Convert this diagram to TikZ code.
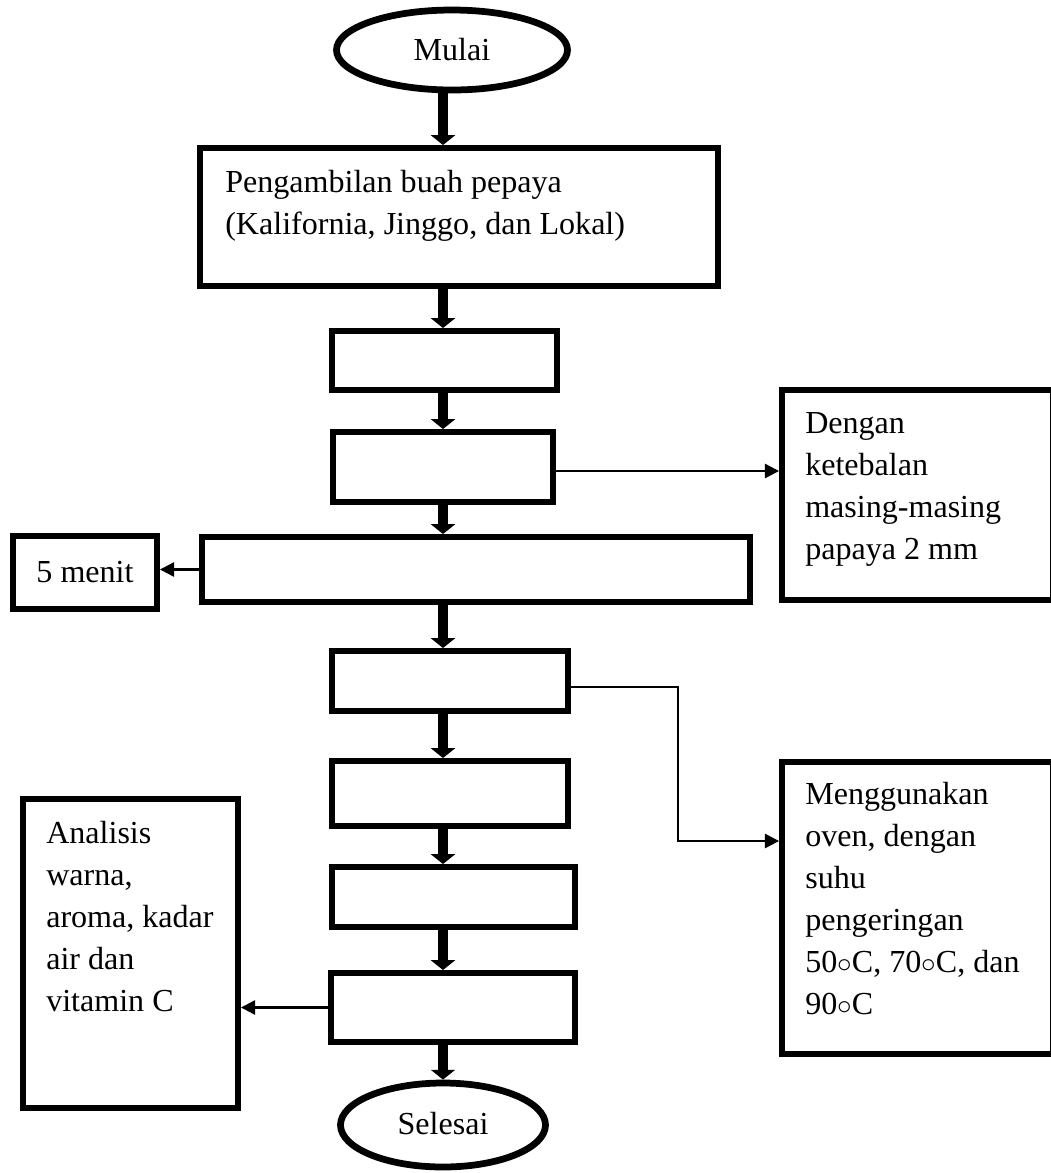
\documentclass[tikz,border=0pt]{standalone}
\usepackage{fontspec}
\setmainfont{Liberation Serif}
\usetikzlibrary{shapes.geometric,arrows.meta}
\def\unitpx{0.025cm}

\begin{document}
\begin{tikzpicture}[x=\unitpx, y=-\unitpx, font=\fontsize{22.8}{29.9}\selectfont]
  \tikzstyle{proses}=[rectangle, draw, line width=4.2pt, inner sep=0pt]
  \tikzstyle{terminal}=[ellipse, draw, line width=4.8pt, inner sep=0pt]
  \tikzstyle{teks}=[anchor=north west, align=left, inner sep=0pt]
  \tikzstyle{panah}=[-{Triangle[length=7pt, width=17pt]}, line width=7.2pt]
  \tikzstyle{garis}=[-{Triangle[length=10pt, width=10pt]}, line width=1.6pt]

  \useasboundingbox (0,0) rectangle (1051,1173);

  \node[terminal, minimum width=231*\unitpx, minimum height=80*\unitpx] (mulai) at (452,50) {Mulai};

  \node[proses, minimum width=518*\unitpx, minimum height=138*\unitpx] (ambil) at (459,217) {};
  \node[teks] (ambil-teks) at (225,170) {Pengambilan buah pepaya\\(Kalifornia, Jinggo, dan Lokal)};

  \foreach \name/\x/\y/\w/\h in {1/444.5/360.5/225/59, 2/443/467/220/70, 3/476/569.5/548/65,
      4/450/681/236/60, 5/450/793.5/236/65, 6/453.5/897/243/60, 7/453/1007.5/244/69}
    \node[proses, minimum width=\w*\unitpx, minimum height=\h*\unitpx] (P-\name) at (\x,\y) {};

  \node[terminal, minimum width=205*\unitpx, minimum height=84*\unitpx, text depth=0.3em] (selesai) at (443,1125) {Selesai};

  \node[proses, minimum width=144*\unitpx, minimum height=73*\unitpx] (menit) at (85,572.5) {5 menit};

  \node[proses, minimum width=271*\unitpx, minimum height=210*\unitpx] (dengan) at (917.5,495) {};
  \node[teks] (dengan-teks) at (805,412) {Dengan\\ketebalan\\masing-masing\\papaya 2 mm};

  \node[proses, minimum width=271*\unitpx, minimum height=292*\unitpx] (oven) at (917.5,908) {};
  \node[teks] (oven-teks) at (805,782) {Menggunakan\\oven, dengan\\suhu\\pengeringan\\50$\circ$C, 70$\circ$C, dan\\90$\circ$C};

  \node[proses, minimum width=215*\unitpx, minimum height=309*\unitpx] (analisis) at (130.5,953.5) {};
  \node[teks] (analisis-teks) at (46,821) {Analisis\\warna,\\aroma, kadar\\air dan\\vitamin C};

  \coordinate (sumbu) at (443,0);
  \coordinate (belok) at (678,841);

  \foreach \src/\dst in {mulai/ambil, ambil/P-1, P-1/P-2, P-2/P-3, P-3/P-4,
      P-4/P-5, P-5/P-6, P-6/P-7, P-7/selesai}
    \draw[panah] (\src.south -| sumbu) -- (\dst.north -| sumbu);

  \draw[garis] ([yshift=-0.1cm]P-2.east) -- ([yshift=-0.1cm]P-2.east -| dengan.west);
  \draw[garis] (P-3.west) -- (P-3.west -| menit.east);
  \draw[garis] ([yshift=-0.15cm]P-4.east) -| (belok) -- (belok -| oven.west);
  \draw[garis] (P-7.west) -- (P-7.west -| analisis.east);
\end{tikzpicture}
\end{document}
